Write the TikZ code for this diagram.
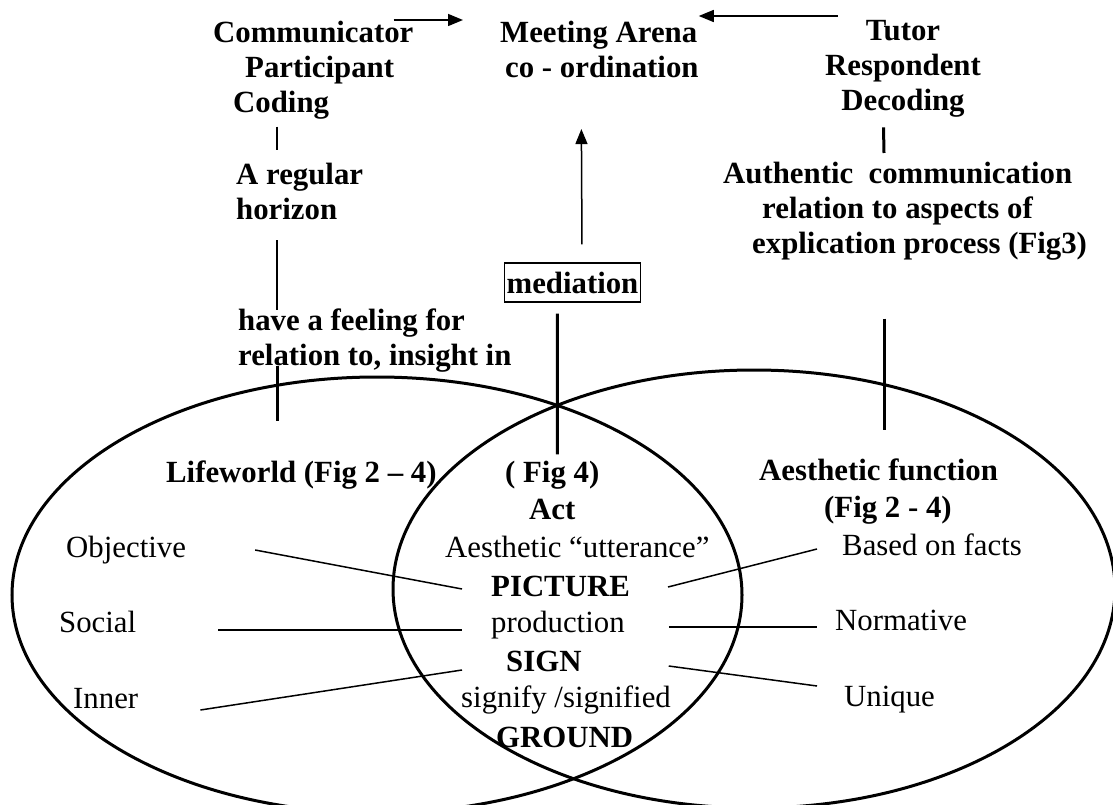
\documentclass[tikz,border=0pt]{standalone}
\usepackage{fontspec}
\setmainfont{Liberation Serif}
\usetikzlibrary{arrows.meta}

\begin{document}
\begin{tikzpicture}[x=1pt,y=-1pt,
    every node/.style={inner sep=0pt,font=\fontsize{30.8}{35}\selectfont},
    lbl/.style={font=\fontsize{30.8}{35}\selectfont\bfseries},
    item/.style={anchor=base west},
    ring/.style={line width=3pt},
    link/.style={line width=1.5pt},
    post/.style={line width=3pt},
    arr/.style={line width=1.5pt,-{Triangle[length=15pt,width=12pt]}}]
    \fill[white] (0,0) rectangle (1113,805);
    \useasboundingbox (0,0) rectangle (1113,805);
    \draw[ring] (377,595) ellipse [x radius=365pt, y radius=218pt]; %Lifeworld
    \draw[ring] (754,589) ellipse [x radius=361pt, y radius=219pt]; %Aesthetic function
    %
    \node[lbl,align=left,anchor=north west] (comm) at (213,21) {Communicator\\\hspace*{32pt}Participant\\\hspace*{20pt}Coding};
    \node[lbl,align=left,anchor=north west] (meet) at (500,21) {Meeting Arena\\\hspace*{5pt}co - ordination};
    \node[lbl,align=center,anchor=north] (tutor) at (903,20) {Tutor\\Respondent\\Decoding};
    \node[lbl,align=left,anchor=north west] (reg) at (236,163) {A regular\\horizon};
    \node[lbl,align=left,anchor=north west] (feel) at (238,309) {have a feeling for\\relation to, insight in};
    \node[lbl,align=left,anchor=north west] (auth) at (723,162) {Authentic\ \ communication\\\hspace*{39pt}relation to aspects of\\\hspace*{29pt}explication process (Fig3)};
    \node[lbl,draw,line width=1.2pt,anchor=base west,inner xsep=2pt,text height=30pt,text depth=9pt] (med) at (504,293) {mediation};
    %
    \node[lbl,item] (life) at (166,482) {Lifeworld (Fig 2 -- 4)};
    \node[item] (obj) at (66,557) {Objective};
    \node[item] (soc) at (59,632) {Social};
    \node[item] (inr) at (73,708) {Inner};
    %
    \node[lbl,item] (fig4) at (505,482) {( Fig 4)};
    \node[lbl,item] (act) at (529,519) {Act};
    \node[item] (utter) at (445,557) {Aesthetic ``utterance''};
    \node[lbl,item] (pic) at (491,596) {PICTURE};
    \node[item] (prod) at (491,632) {production};
    \node[lbl,item] (sign) at (506,671) {SIGN};
    \node[item] (signif) at (461,707) {signify /signified};
    \node[lbl,item] (ground) at (496,747) {GROUND};
    %
    \node[lbl,item] (aes) at (759,480) {Aesthetic function};
    \node[lbl,item] (afig) at (824,517) {(Fig 2 - 4)};
    \node[item] (facts) at (842,555) {Based on facts};
    \node[item] (norm) at (835,630) {Normative};
    \node[item] (uniq) at (844,706) {Unique};
    %
    \draw[arr] ([shift={(-20,-1)}]comm.north east) -- ([shift={(-37,-1)}]meet.north west);
    \draw[arr] ([shift={(13,-4)}]tutor.north west) -- ([shift={(0,-5)}]meet.north east);
    \draw[arr] ([shift={(9.5,-18)}]med.north) -- ([shift={(-18,51)}]meet.south);
    \draw[post] ([shift={(-15,11)}]med.south) -- ([shift={(5,-6)}]fig4.north);
    %
    \draw[link] ([shift={(64,7)}]comm.south west) -- ([shift={(41,-13)}]reg.north west);
    \draw[link] ([shift={(41,20)}]reg.south west) -- ([shift={(39,1)}]feel.north west);
    \draw[post] ([shift={(39,-7)}]feel.south west) -- ++(0,55);
    \draw[post] ([shift={(-19.5,10)}]tutor.south) -- ([shift={(161,-9)}]auth.north west);
    \draw[post] ([shift={(161,58)}]auth.south west) -- ([shift={(125,-28)}]aes.north west);
    %
    \draw[link] ([shift={(69,-7)}]obj.base east) -- ([shift={(-29,-7)}]pic.base west);
    \draw[link] ([shift={(82,-2)}]soc.base east) -- ([shift={(-29,-2)}]prod.base west);
    \draw[link] ([shift={(62,2)}]inr.base east) -- ([shift={(-44,-1)}]sign.base west);
    \draw[link] ([shift={(38,-9)}]pic.base east) -- ([shift={(-25,-6)}]facts.base west);
    \draw[link] ([shift={(44,-5)}]prod.base east) -- ([shift={(-18,-3)}]norm.base west);
    \draw[link] ([shift={(87,-5)}]sign.base east) -- ([shift={(-27,-20)}]uniq.base west);
\end{tikzpicture}
\end{document}
